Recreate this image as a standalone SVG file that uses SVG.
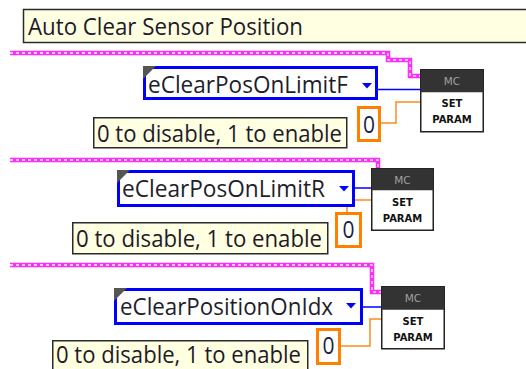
<svg xmlns="http://www.w3.org/2000/svg" width="526" height="369" viewBox="0 0 526 369">
<style>
.lbl{fill:#ffffe1;stroke:#2b2b2b;stroke-width:1.5}
.lt{font-family:"Open Sans","Liberation Sans",sans-serif;font-size:23.5px;fill:#1e1a2a}
.enum{fill:#fff;stroke:#0000ff;stroke-width:3}
.et{font-family:"Open Sans","Liberation Sans",sans-serif;font-size:23px;fill:#1e1e2a}
.corner{fill:#555}
.dd{fill:#0000ff}
.cst{fill:#fff;stroke:#ff7f00;stroke-width:3}
.ct{font-family:"Open Sans","Liberation Sans",sans-serif;font-size:24px;fill:#1a1f4a;text-anchor:middle}
.nb{fill:#fff;stroke:#222;stroke-width:1.5}
.nh{fill:#333}
.mc{font-family:"DejaVu Sans","Liberation Sans",sans-serif;font-size:10.5px;fill:#a0a0a0;text-anchor:middle}
.sp{font-family:"DejaVu Sans","Liberation Sans",sans-serif;font-size:10px;font-weight:bold;fill:#111;text-anchor:middle}
.pk{fill:none;stroke:#ff2bff;stroke-width:4.5}
.pkd{fill:none;stroke:#fff;stroke-width:1.3;stroke-dasharray:3 3}
.bw{fill:none;stroke:#0000ff;stroke-width:1.5}
.ow{fill:none;stroke:#ff8a1e;stroke-width:1.5}
</style>
<g id="title">
<rect class="lbl" x="23.5" y="9.5" width="520" height="33"/>
<text class="lt" x="28" y="35" textLength="275" lengthAdjust="spacingAndGlyphs">Auto Clear Sensor Position</text>
</g>
<g id="connectors">
<path class="pk" d="M10,53 H388 V60 H410 V76 H420"/>
<path class="pkd" d="M10,53 H388 V60 H410 V76 H420"/>
<path class="pk" d="M10,160 H378 V168"/>
<path class="pkd" d="M10,160 H378 V168"/>
<path class="pk" d="M10,265 H372 V292 H381"/>
<path class="pkd" d="M10,265 H372 V292 H381"/>
<path class="bw" d="M378,89.5 H420"/>
<path class="bw" d="M355,188 H371"/>
<path class="bw" d="M363,307 H381"/>
<path class="ow" d="M380,123 H396 V102 H420"/>
<path class="ow" d="M347,212 V200 H371"/>
<path class="ow" d="M341,346 H370 V319 H381"/>
</g>
<g id="enum1">
<rect class="enum" x="144.5" y="67.5" width="232" height="31"/>
<polygon class="corner" points="143,66 156,66 143,79"/>
<text class="et" x="148" y="93" textLength="200" lengthAdjust="spacingAndGlyphs">eClearPosOnLimitF</text>
<polygon class="dd" points="362,83 372,83 367,88.5"/>
</g>
<g id="node1">
<rect class="nb" x="420.75" y="69.75" width="62.5" height="62"/>
<rect class="nh" x="420.75" y="69.75" width="62.5" height="22.5"/>
<text class="mc" x="452" y="85">MC</text>
<text class="sp" x="452" y="107">SET</text>
<text class="sp" x="452" y="123">PARAM</text>
</g>
<g id="const1">
<rect class="cst" x="358.5" y="107.5" width="21" height="33"/>
<text class="ct" x="369" y="133" textLength="12" lengthAdjust="spacingAndGlyphs">0</text>
</g>
<g id="label1">
<rect class="lbl" x="93.75" y="117.75" width="253" height="30"/>
<text class="lt" x="97" y="142" textLength="245" lengthAdjust="spacingAndGlyphs">0 to disable, 1 to enable</text>
</g>
<g id="enum2">
<rect class="enum" x="118.5" y="171.5" width="235" height="34"/>
<polygon class="corner" points="117,170 130,170 117,183"/>
<text class="et" x="122" y="197" textLength="203" lengthAdjust="spacingAndGlyphs">eClearPosOnLimitR</text>
<polygon class="dd" points="339,186 349,186 344,191.5"/>
</g>
<g id="node2">
<rect class="nb" x="371.75" y="168.75" width="61.5" height="61.5"/>
<rect class="nh" x="371.75" y="168.75" width="61.5" height="21.5"/>
<text class="mc" x="402.5" y="184">MC</text>
<text class="sp" x="402.5" y="206">SET</text>
<text class="sp" x="402.5" y="222">PARAM</text>
</g>
<g id="const2">
<rect class="cst" x="336.5" y="213.5" width="24" height="33"/>
<text class="ct" x="348.5" y="238" textLength="12" lengthAdjust="spacingAndGlyphs">0</text>
</g>
<g id="label2">
<rect class="lbl" x="72.75" y="222.75" width="255" height="31"/>
<text class="lt" x="76" y="247" textLength="246" lengthAdjust="spacingAndGlyphs">0 to disable, 1 to enable</text>
</g>
<g id="enum3">
<rect class="enum" x="115.5" y="289.5" width="246" height="34"/>
<polygon class="corner" points="114,288 127,288 114,301"/>
<text class="et" x="120" y="315" textLength="213" lengthAdjust="spacingAndGlyphs">eClearPositionOnIdx</text>
<polygon class="dd" points="346,303 356,303 351,308.5"/>
</g>
<g id="node3">
<rect class="nb" x="381.75" y="286.75" width="62.5" height="62"/>
<rect class="nh" x="381.75" y="286.75" width="62.5" height="23"/>
<text class="mc" x="413" y="302">MC</text>
<text class="sp" x="413" y="325">SET</text>
<text class="sp" x="413" y="341">PARAM</text>
</g>
<g id="const3">
<rect class="cst" x="317.5" y="329.5" width="22" height="34"/>
<text class="ct" x="328.5" y="354" textLength="12" lengthAdjust="spacingAndGlyphs">0</text>
</g>
<g id="label3">
<rect class="lbl" x="52.75" y="340.75" width="255" height="31"/>
<text class="lt" x="56" y="363" textLength="245" lengthAdjust="spacingAndGlyphs">0 to disable, 1 to enable</text>
</g>
</svg>
